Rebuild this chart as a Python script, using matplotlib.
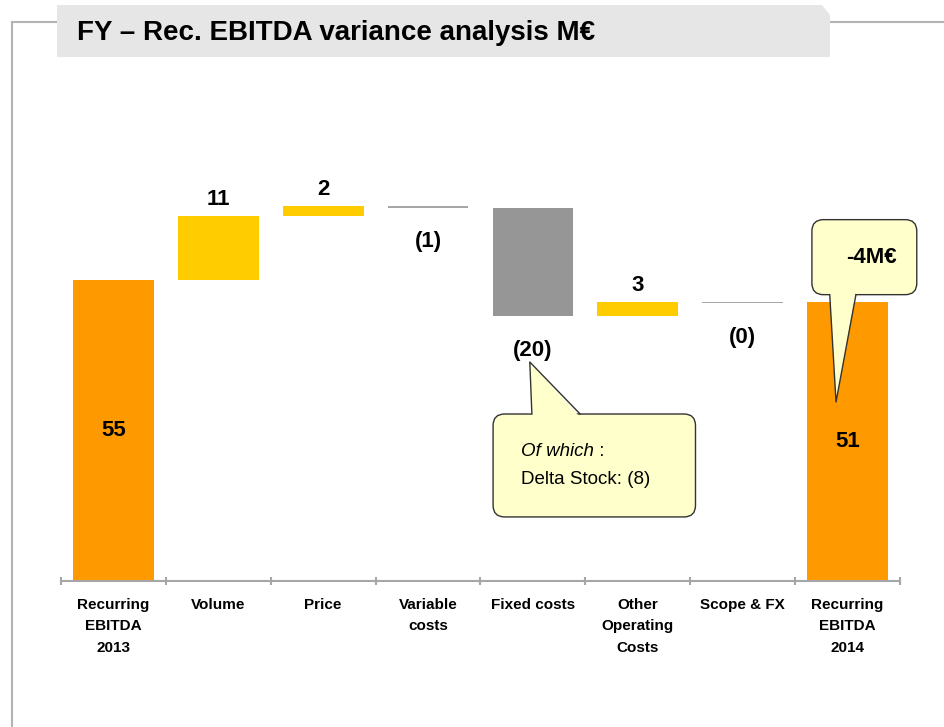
import matplotlib
matplotlib.use("Agg")
import matplotlib.pyplot as plt
from matplotlib.patches import FancyBboxPatch, Polygon
from matplotlib.lines import Line2D

# ── data ────────────────────────────────────────────────────────────────────
categories = ["Recurring\nEBITDA\n2013", "Volume", "Price", "Variable\ncosts",
              "Fixed costs", "Other\nOperating\nCosts", "Scope & FX",
              "Recurring\nEBITDA\n2014"]
values = [55.0, 11.7, 1.8, -0.3, -19.8, 2.6, -0.3, 51.0]
value_labels = ["55", "11", "2", "(1)", "(20)", "3", "(0)", "51"]
kinds = ["total", "delta", "delta", "delta", "delta", "delta", "delta", "total"]
colors = ["#FF9900", "#FFCC00", "#FFCC00", "#A6A6A6", "#969696", "#FFCC00",
          "#A6A6A6", "#FF9900"]

FIG_W, FIG_H = 945, 727
fig = plt.figure(figsize=(FIG_W / 100, FIG_H / 100), dpi=100)
plt.rcParams["font.family"] = ["Liberation Sans", "DejaVu Sans"]


def fx(px):
    return px / FIG_W


def fy(py):
    return 1 - py / FIG_H


# ── frame and title banner ─────────────────────────────────────────────────
fig.add_artist(Line2D([fx(12), fx(12)], [fy(22), 0], color="#B4B4B4", lw=1.5,
                      zorder=1))
fig.add_artist(Line2D([fx(12), 1], [fy(22), fy(22)], color="#B4B4B4", lw=1.5,
                      zorder=1))
fig.add_artist(Polygon([(fx(57), fy(5)), (fx(822), fy(5)), (fx(830), fy(15)),
                        (fx(830), fy(57)), (fx(57), fy(57))],
                       closed=True, facecolor="#E6E6E6", edgecolor="none",
                       zorder=3))
fig.text(fx(77), fy(33), "FY \u2013 Rec. EBITDA variance analysis M\u20ac",
         fontsize=20, fontweight="bold", ha="left", va="center", zorder=4)

# ── waterfall ──────────────────────────────────────────────────────────────
ax = fig.add_axes([fx(61), fy(581), fx(900) - fx(61), (581 - 143) / FIG_H])
ax.set_xlim(-0.5, len(categories) - 0.5)
ax.set_ylim(0, 80)

running = 0.0
spans = []
for i, (v, k, c) in enumerate(zip(values, kinds, colors)):
    if k == "total":
        bottom = 0.0
        running = v
    else:
        bottom = running
        running += v
    ax.bar(i, v, bottom=bottom, width=0.77, color=c, linewidth=0)
    spans.append(tuple(sorted([bottom, bottom + v])))

for i, (lab, v, k) in enumerate(zip(value_labels, values, kinds)):
    lo, hi = spans[i]
    if k == "total":
        ax.text(i, hi * 0.5, lab, ha="center", va="center",
                fontsize=16, fontweight="bold")
    elif v >= 0:
        ax.annotate(lab, (i, hi), xytext=(0, 4), textcoords="offset points",
                    ha="center", va="bottom", fontsize=16, fontweight="bold")
    else:
        ax.annotate(lab, (i, lo), xytext=(0, -17), textcoords="offset points",
                    ha="center", va="top", fontsize=16, fontweight="bold")

ax.set_xticks([i + 0.5 for i in range(-1, len(categories))], minor=False)
ax.set_xticklabels([])
ax.set_xticks(range(len(categories)), minor=True)
ax.set_xticklabels(categories, minor=True, fontsize=11, fontweight="bold",
                   linespacing=1.7, va="top")
ax.tick_params(axis="x", which="major", direction="inout", length=6,
               width=1.5, color="#A6A6A6")
ax.tick_params(axis="x", which="minor", length=0, pad=12)
ax.set_yticks([])
for side in ["top", "right", "left"]:
    ax.spines[side].set_visible(False)
ax.spines["bottom"].set_color("#A6A6A6")
ax.spines["bottom"].set_linewidth(1.5)

# ── callouts ───────────────────────────────────────────────────────────────
FILL = "#FFFFCC"
ASPECT = (839 / 8) / (438 / 80)


def callout(box, base, tip):
    x0, y0, x1, y1 = box
    patch = FancyBboxPatch((x0, y0), x1 - x0, y1 - y0,
                           boxstyle="round,pad=0,rounding_size=0.11",
                           mutation_aspect=ASPECT, facecolor=FILL,
                           edgecolor="#333333", lw=1.0, zorder=5, clip_on=False)
    ax.add_patch(patch)
    (bx0, by), (bx1, _) = base
    d = 0.6 if by >= y1 else -0.6
    ax.add_patch(Polygon([(bx0, by - d), (tip[0], tip[1]), (bx1, by - d)],
                         closed=True, facecolor=FILL, edgecolor="none",
                         zorder=6, clip_on=False))
    ax.plot([bx0, tip[0], bx1], [by, tip[1], by], color="#333333", lw=1.0,
            zorder=7, clip_on=False)


callout((3.62, 11.7, 5.55, 30.5), ((3.99, 30.5), (4.45, 30.5)), (3.97, 40.0))
t = ax.text(3.89, 23.6, "Of which", style="italic", fontsize=13.5, va="center",
            ha="left", zorder=8)
ax.annotate(" :", xy=(1, 0.5), xycoords=t, fontsize=13.5, va="center",
            ha="left", zorder=8)
ax.text(3.89, 18.5, "Delta Stock: (8)", fontsize=13.5, va="center", ha="left",
        zorder=8)

callout((6.66, 52.3, 7.66, 66.0), ((6.83, 52.3), (7.08, 52.3)), (6.89, 32.7))
ax.text(7.23, 59.0, "-4M\u20ac", fontsize=16, fontweight="bold", ha="center",
        va="center", zorder=8)

fig.savefig("out.png", dpi=100)
